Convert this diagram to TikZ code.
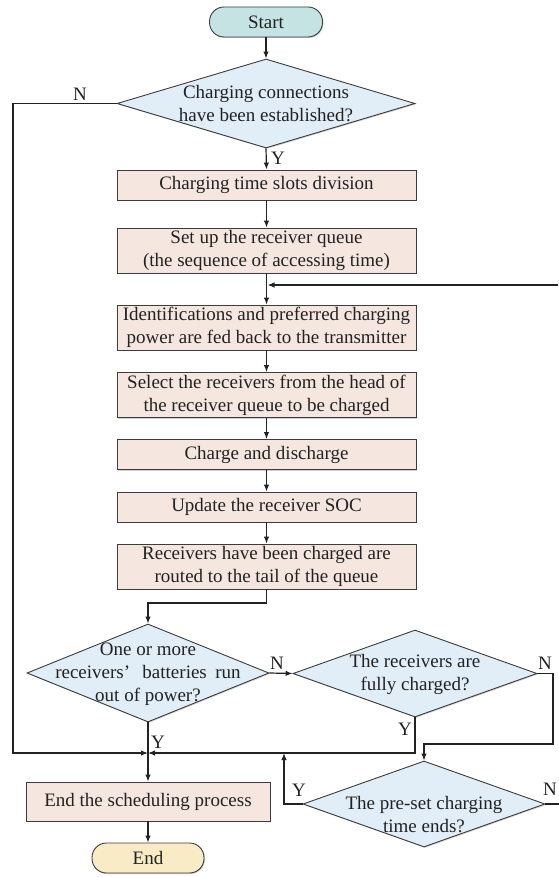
\documentclass[tikz,border=0pt]{standalone}
\usepackage{fontspec}
\setmainfont{Liberation Serif}
\usetikzlibrary{shapes.geometric,arrows.meta,shadows}

\definecolor{edgegray}{HTML}{3C3C3C}
\definecolor{textgray}{HTML}{222222}
\definecolor{startfill}{HTML}{C5E3E2}
\definecolor{endfill}{HTML}{F8EBC5}
\definecolor{boxfill}{HTML}{F5E7E0}
\definecolor{decfill}{HTML}{E1EDF7}

\tikzset{
  base/.style={draw=edgegray, line width=0.9pt, text=textgray, inner sep=0pt,
    font=\fontsize{19}{23}\selectfont, align=center},
  shade/.style={drop shadow={shadow xshift=1pt, shadow yshift=-1pt, fill=black, opacity=0.18}},
  terminal/.style={base, shade, rectangle, rounded corners=14.5pt, minimum height=30, minimum width=113},
  procbox/.style={base, shade, rectangle, fill=boxfill, minimum width=299},
  decision/.style={base, shade, diamond, fill=decfill},
  dectext/.style={inner sep=0pt, text=textgray, font=\fontsize{19}{23}\selectfont, align=center},
  flag/.style={inner sep=0pt, text=textgray, font=\fontsize{19}{23}\selectfont},
  arr/.style={draw=textgray, line width=1.2pt, -{Latex[length=7pt,width=5.5pt]}},
  ln/.style={draw=textgray, line width=1.2pt},
}

\begin{document}
\begin{tikzpicture}[x=1pt,y=-1pt]
\useasboundingbox (0,0) rectangle (558,877);

% main column
\node[terminal, fill=startfill] (start) at (266,22) {Start};
\node[decision, minimum width=298, minimum height=89] (d1) at (266,103.5) {};
\node[dectext] (d1t) at (266,104) {Charging connections\\have been established?};
\node[procbox, minimum height=30] (b1) at (266.5,185) {Charging time slots division};
\node[procbox, minimum height=45] (b2) at (266.5,250.5) {Set up the receiver queue\\(the sequence of accessing time)};
\node[procbox, minimum height=45] (b3) at (266.5,327.5) {Identifications and preferred charging\\power are fed back to the transmitter};
\node[procbox, minimum height=45] (b4) at (266.5,395) {Select the receivers from the head of\\the receiver queue to be charged};
\node[procbox, minimum height=30] (b5) at (266.5,454.5) {Charge and discharge};
\node[procbox, minimum height=30] (b6) at (266.5,507) {Update the receiver SOC};
\node[procbox, minimum height=45] (b7) at (266.5,566.5) {Receivers have been charged are\\routed to the tail of the queue};

% lower decisions
\node[decision, minimum width=242, minimum height=98] (d2) at (148,673) {};
\node[dectext] (d2t) at (148,674) {One or more\\receivers’\hspace{0.4em} batteries\hspace{0.2em} run\\out of power?};
\node[decision, minimum width=244, minimum height=87] (d3) at (415,673.5) {};
\node[dectext] (d3t) at (415,674) {The receivers are\\fully charged?};
\node[decision, minimum width=242, minimum height=86] (d4) at (424,804) {};
\node[dectext] (d4t) at (424,815) {The pre-set charging\\time ends?};

\node[procbox, minimum width=244, minimum height=39] (fin) at (148,801.5) {End the scheduling process};
\node[terminal, fill=endfill, minimum width=112] (stop) at (148,858) {End};

% routing points
\coordinate (merge) at (148,753);
\coordinate (leftrail) at (13,753);
\coordinate (loopin) at (558,285);
\coordinate (kink) at (148,603);
\coordinate (rightrail) at (553,744);
\coordinate (backup) at (284,753);
\coordinate (offright) at (560,804);

% connectors
\draw[arr] (start.south) -- (d1.north);
\draw[arr] (d1.south) -- (b1.north);
\draw[arr] (d1.west) -| (leftrail) -- (merge);
\draw[arr] (b1.south) -- (b2.north);
\draw[arr] (b2.south) -- (b3.north);
\draw[arr] (loopin) -- ([xshift=1pt]loopin -| b3.north);
\draw[arr] (b3.south) -- (b4.north);
\draw[arr] (b4.south) -- (b5.north);
\draw[arr] (b5.south) -- (b6.north);
\draw[arr] (b6.south) -- (b7.north);
\draw[arr] (b7.south) |- (kink) -- (d2.north);
\draw[arr] (d2.east) -- (d3.west);
\draw[ln] (d2.south) -- (merge);
\draw[arr] (merge) -- (fin.north);
\draw[arr] (d3.south) |- (merge);
\draw[arr] (d3.east) -| (rightrail) -| (d4.north);
\draw[arr] (d4.west) -| (backup);
\draw[ln] (d4.east) -- (offright);
\draw[arr] (fin.south) -- (stop.north);

% branch labels
\node[flag] (n1) at (80,94) {N};
\node[flag] (y1) at (278,158) {Y};
\node[flag] (n2) at (277,663) {N};
\node[flag] (y2) at (158,742) {Y};
\node[flag] (n3) at (545,663) {N};
\node[flag] (y3) at (405,729) {Y};
\node[flag] (y4) at (299,790) {Y};
\node[flag] (n4) at (550,789) {N};
\end{tikzpicture}
\end{document}
